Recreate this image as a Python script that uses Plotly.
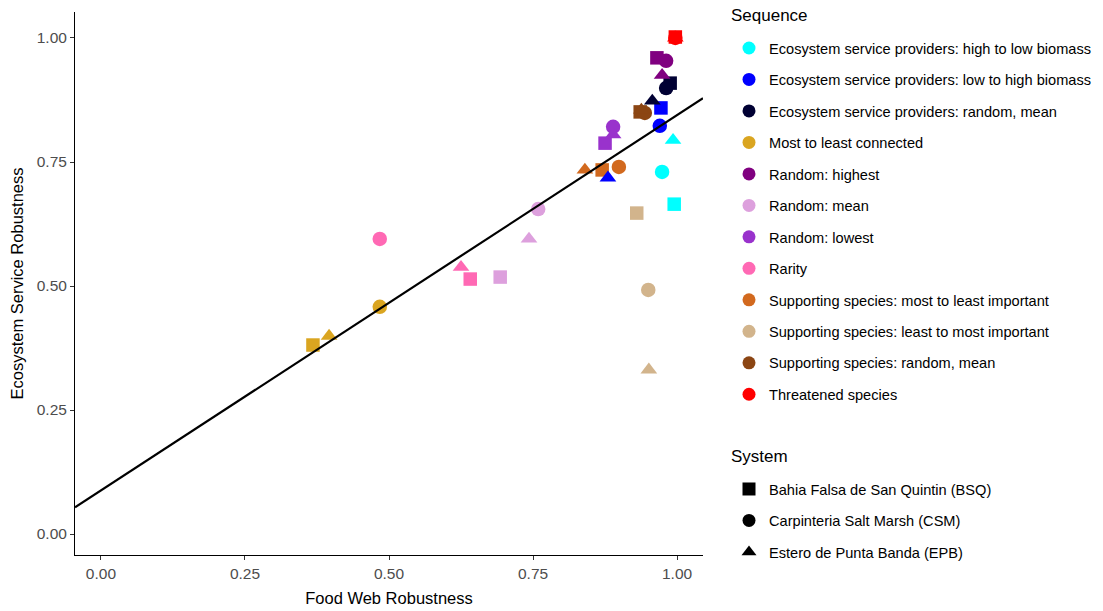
import numpy as np
import plotly.graph_objects as go

# ---------------- data ----------------
sequences = [
    "Ecosystem service providers: high to low biomass",
    "Ecosystem service providers: low to high biomass",
    "Ecosystem service providers: random, mean",
    "Most to least connected",
    "Random: highest",
    "Random: mean",
    "Random: lowest",
    "Rarity",
    "Supporting species: most to least important",
    "Supporting species: least to most important",
    "Supporting species: random, mean",
    "Threatened species",
]
seq_colors = [
    "#00FFFF", "#0000FF", "#000033", "#DAA520", "#800080", "#DDA0DD",
    "#9932CC", "#FF69B4", "#D2691E", "#D2B48C", "#8B4513", "#FF0000",
]
systems = [
    "Bahia Falsa de San Quintin (BSQ)",
    "Carpinteria Salt Marsh (CSM)",
    "Estero de Punta Banda (EPB)",
]
system_symbols = ["square", "circle", "triangle-up"]

# Food web robustness (x) and ecosystem service robustness (y), per system, in sequence order
fw_bsq = [0.995, 0.972, 0.988, 0.368, 0.965, 0.693, 0.875, 0.641, 0.870, 0.930, 0.936, 0.997]
es_bsq = [0.665, 0.859, 0.909, 0.381, 0.960, 0.518, 0.788, 0.514, 0.734, 0.647, 0.851, 1.002]
fw_csm = [0.974, 0.970, 0.981, 0.484, 0.981, 0.759, 0.889, 0.484, 0.899, 0.950, 0.944, 0.997]
es_csm = [0.730, 0.823, 0.899, 0.458, 0.954, 0.655, 0.821, 0.595, 0.740, 0.492, 0.849, 1.000]
fw_epb = [0.993, 0.880, 0.957, 0.396, 0.974, 0.743, 0.889, 0.625, 0.840, 0.951, 0.938, 0.997]
es_epb = [0.794, 0.718, 0.873, 0.399, 0.925, 0.595, 0.805, 0.538, 0.734, 0.331, 0.855, 1.000]

x_ticks = [0.0, 0.25, 0.5, 0.75, 1.0]
x_ticktext = ["0.00", "0.25", "0.50", "0.75", "1.00"]
y_ticks = [0.0, 0.25, 0.5, 0.75, 1.0]
y_ticktext = ["0.00", "0.25", "0.50", "0.75", "1.00"]

x_range = [-0.045, 1.045]
y_range = [-0.0423, 1.0524]

# ---------------- figure ----------------
# the page body adds an 8px offset, so the figure is drawn 8px smaller
W, H = 1095, 603
ML, MT, PW, PH = 67, 4, 628, 543

fig = go.Figure()

marker_sizes = {"square": 13.5, "circle": 14.5, "triangle-up": 14.5}
for sysname, sym, xs, ys in zip(
    systems, system_symbols, [fw_bsq, fw_csm, fw_epb], [es_bsq, es_csm, es_epb]
):
    fig.add_trace(go.Scatter(
        x=xs, y=ys, mode="markers",
        marker=dict(symbol=sym, size=marker_sizes[sym], color=seq_colors, line=dict(width=0)),
        showlegend=False, hoverinfo="skip",
    ))

# linear fit over all points
all_x = np.array(fw_bsq + fw_csm + fw_epb)
all_y = np.array(es_bsq + es_csm + es_epb)
slope, intercept = np.polyfit(all_x, all_y, 1)
line_x = np.array(x_range)
fig.add_trace(go.Scatter(
    x=line_x, y=intercept + slope * line_x, mode="lines",
    line=dict(color="black", width=2.2), showlegend=False, hoverinfo="skip",
))

# legend: Sequence (colours)
for name, col in zip(sequences, seq_colors):
    fig.add_trace(go.Scatter(
        x=[None], y=[None], mode="markers", name=name, legendgroup=name,
        marker=dict(symbol="circle", size=13, color=col), legend="legend",
    ))
# legend: System (shapes)
for name, sym in zip(systems, system_symbols):
    fig.add_trace(go.Scatter(
        x=[None], y=[None], mode="markers", name=name, legendgroup=name,
        marker=dict(symbol=sym, size=13, color="black"), legend="legend2",
    ))

font_family = "Arial, Liberation Sans, sans-serif"
axis_common = dict(
    showgrid=False, zeroline=False, showline=True, linecolor="black", linewidth=1,
    ticks="outside", ticklen=4, tickcolor="#333333", tickwidth=1,
    tickfont=dict(family=font_family, size=15.5, color="#4D4D4D"),
    mirror=False, automargin=True,
)

def px_to_paper_x(px_page):
    return (px_page - 8 - ML) / PW

def py_to_paper_y(py_page):
    return (MT + PH - (py_page - 8)) / PH

legend_common = dict(
    font=dict(size=14.6), xref="container", yref="container",
    x=(729 - 8) / W, xanchor="left", yanchor="top",
    tracegroupgap=9.5, bgcolor="rgba(0,0,0,0)", itemclick=False,
)

fig.update_layout(
    width=W, height=H,
    paper_bgcolor="white", plot_bgcolor="white",
    margin=dict(l=ML, r=W - ML - PW, t=MT, b=H - MT - PH, autoexpand=False),
    font=dict(family=font_family, color="black"),
    xaxis=dict(range=x_range, tickvals=x_ticks, ticktext=x_ticktext,
               title=dict(text="Food Web Robustness", font=dict(size=16.5, color="black"), standoff=11),
               **axis_common),
    yaxis=dict(range=y_range, tickvals=y_ticks, ticktext=y_ticktext,
               title=dict(text="Ecosystem Service Robustness", font=dict(size=16.5, color="black"), standoff=10),
               **axis_common),
    legend=dict(y=1 - (32 - 8) / H, **legend_common),
    legend2=dict(y=1 - (473 - 8) / H, **legend_common),
    annotations=[
        dict(text="Sequence", xref="paper", yref="paper",
             x=px_to_paper_x(729), y=py_to_paper_y(16), xanchor="left", yanchor="middle",
             showarrow=False, font=dict(size=17, color="black")),
        dict(text="System", xref="paper", yref="paper",
             x=px_to_paper_x(729), y=py_to_paper_y(456), xanchor="left", yanchor="middle",
             showarrow=False, font=dict(size=17, color="black")),
    ],
)
try:
    fig.update_layout(legend_maxheight=600, legend2_maxheight=600)
except Exception:
    pass

fig.write_html("out.html")
